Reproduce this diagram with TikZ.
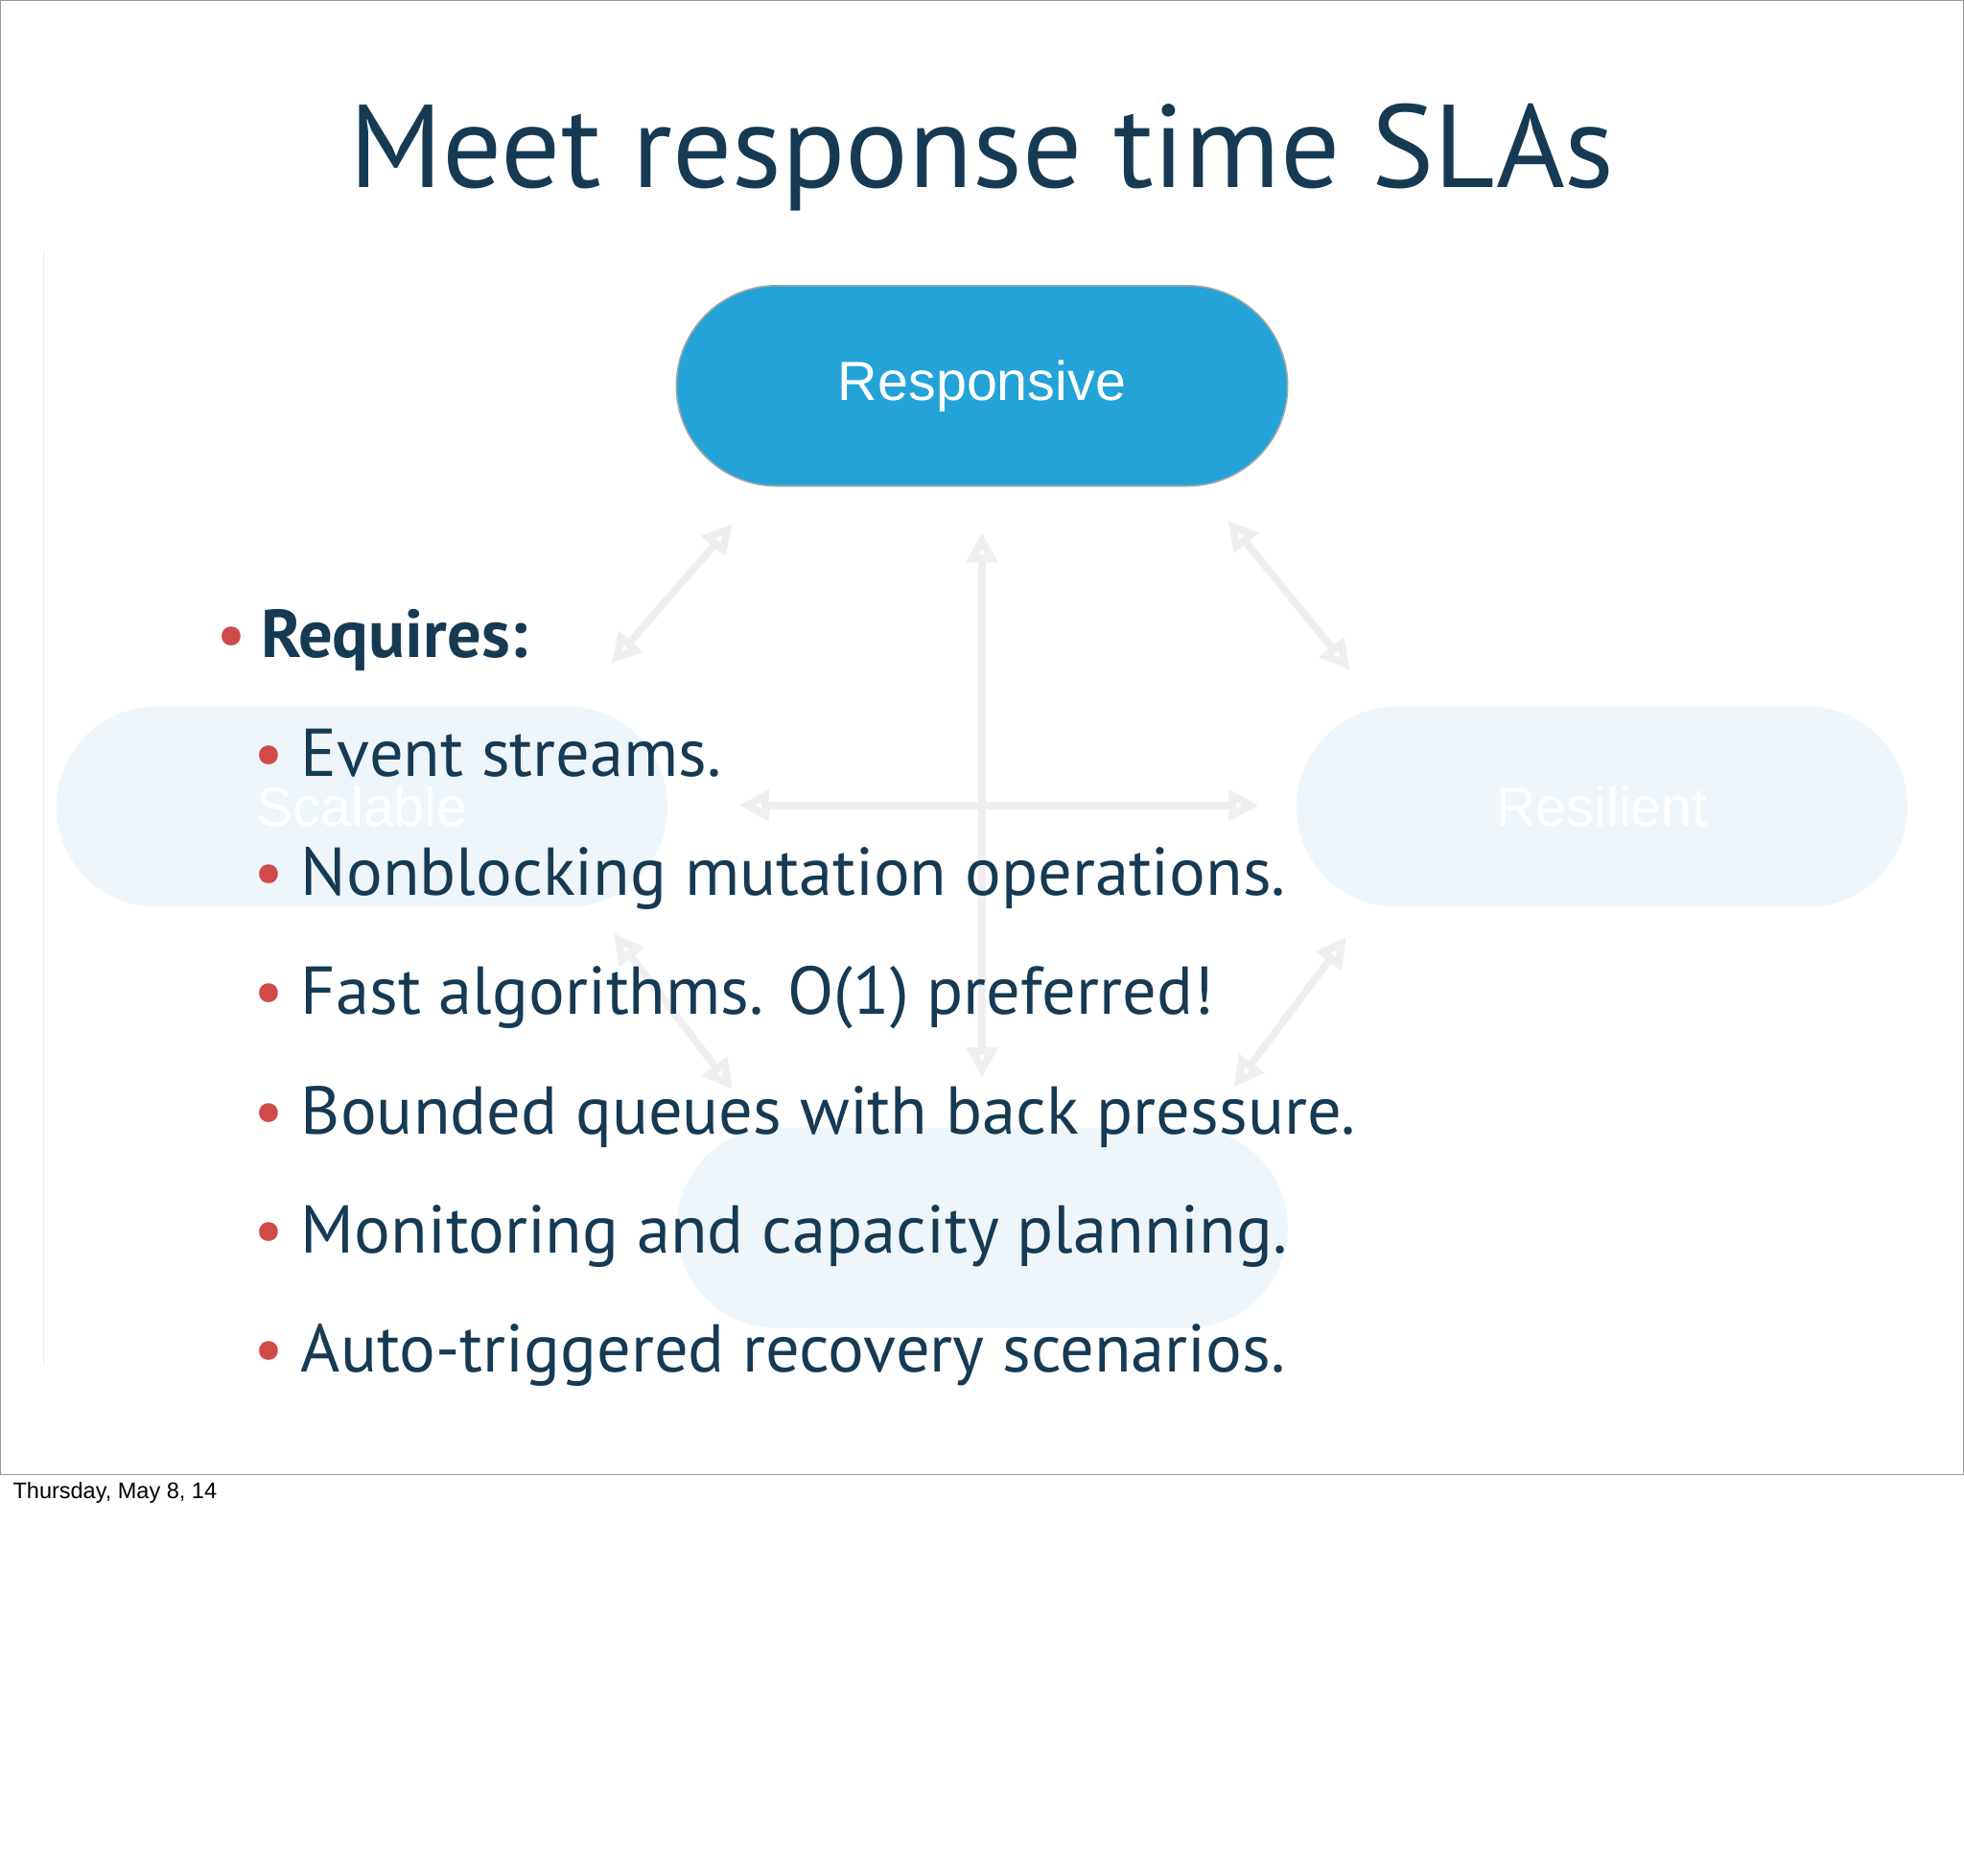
\documentclass[tikz,border=0pt]{standalone}
\usepackage{fontspec}
\setmainfont{PT Sans}
\newfontfamily\helv{Liberation Sans}
\usetikzlibrary{arrows.meta}
\definecolor{navy}{HTML}{163A54}
\definecolor{bred}{HTML}{D04A4A}
\definecolor{pillblue}{HTML}{24A3D8}
\definecolor{fadepill}{HTML}{EEF6FB}
\definecolor{fadearrow}{HTML}{F1EEF1}
\tikzset{
 pill/.style={rounded corners=40pt,minimum width=244pt,minimum height=80pt,inner sep=0pt},
 fadedpill/.style={pill,fill=fadepill},
 farrow/.style={draw=fadearrow,line width=3pt,{Triangle[open,length=12pt,width=12pt]}-{Triangle[open,length=12pt,width=12pt]}},
 item/.style={anchor=base west,text=navy,font=\fontsize{27}{30}\selectfont,inner sep=0pt},
 dot/.style={anchor=base,text=bred,font=\fontsize{27}{30}\selectfont,inner sep=0pt}
}
\begin{document}
\begin{tikzpicture}[x=0.5pt,y=-0.5pt]
\useasboundingbox (0,0) rectangle (1568,1497);
\fill[white] (0,0) rectangle (1568,1497);
\draw[gray!80,line width=0.6pt] (0,0) rectangle (1568,1177);
\draw[gray!15,line width=0.6pt] (35,200) -- (35,1090);
\node[anchor=base,text=navy,font=\fontsize{47}{52}\selectfont,inner sep=0pt] (title) at (784,150) {Meet response time SLAs};
\node[pill,fill=pillblue,draw=gray!70,line width=0.6pt,text=white,font=\helv\fontsize{22}{24}\selectfont] (resp) at (784,308) {\raisebox{-3pt}{Responsive}};
\node[fadedpill,text=white,font=\helv\fontsize{22}{24}\selectfont] (scal) at (289,644) {\raisebox{-3pt}{Scalable}};
\node[fadedpill,text=white,font=\helv\fontsize{22}{24}\selectfont] (resil) at (1279,644) {\raisebox{-3pt}{Resilient}};
\node[fadedpill] (elas) at (784,980) {};
\coordinate (a1) at (585,418); \coordinate (a2) at (488,530);
\coordinate (b1) at (784,425); \coordinate (b2) at (784,860);
\coordinate (c1) at (590,643); \coordinate (c2) at (1005,643);
\coordinate (d1) at (980,415); \coordinate (d2) at (1078,535);
\coordinate (e1) at (1075,748); \coordinate (e2) at (985,868);
\coordinate (f1) at (490,745); \coordinate (f2) at (585,870);
\foreach \p/\q in {a1/a2,b1/b2,c1/c2,d1/d2,e1/e2,f1/f2} \draw[farrow] (\p) -- (\q);
\node[dot] (d0) at (185,525) {•};
\node[item,font=\bfseries\fontsize{27}{30}\selectfont] (req) at (208,525) {Requires:};
\foreach \t [count=\i] in {Event streams.,Nonblocking mutation operations.,Fast algorithms. O(1) preferred!,Bounded queues with back pressure.,Monitoring and capacity planning.,Auto-triggered recovery scenarios.}{
 \node[dot] (b\i) at (215,525+95*\i) {•};
 \node[item] (t\i) at (240,525+95*\i) {\t};
}
\node[anchor=base west,font=\helv\fontsize{9}{10}\selectfont,inner sep=0pt] (foot) at (10,1196) {Thursday, May 8, 14};
\end{tikzpicture}
\end{document}
